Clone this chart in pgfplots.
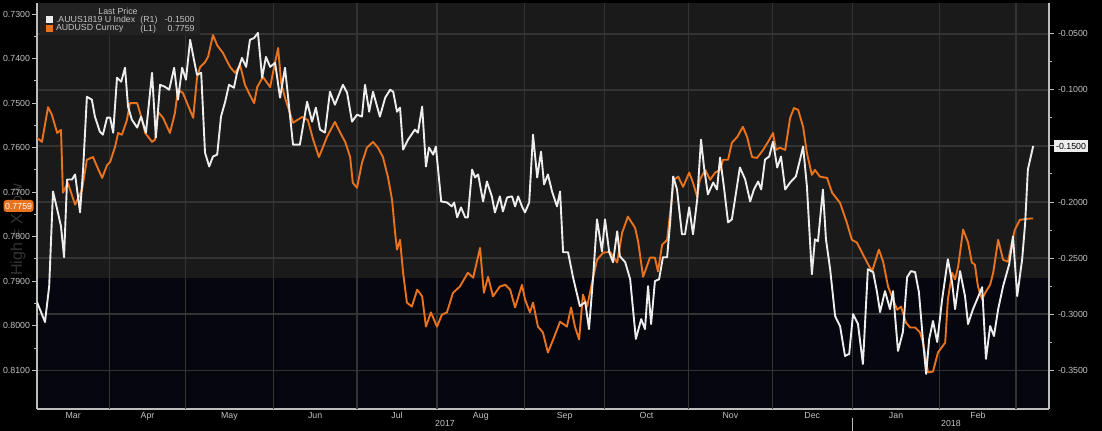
\documentclass[border=0pt]{standalone}
\usepackage{pgfplots}
\pgfplotsset{compat=1.18}
\usepackage{fontspec}
\setmainfont{Liberation Sans}
\definecolor{upperband}{HTML}{1A1A1A}
\definecolor{lowerband}{HTML}{05060E}
\definecolor{gridc}{HTML}{333333}
\definecolor{axc}{HTML}{BDBDBD}
\definecolor{txt}{HTML}{C4C4C4}
\definecolor{orng}{HTML}{E8721E}
\definecolor{wht}{HTML}{EDEDED}
\definecolor{legbg}{HTML}{222222}
\definecolor{wmark}{HTML}{343434}
\newcommand{\tf}{\fontsize{4.4}{5}\selectfont}
\pgfplotsset{
  base/.style={
    at={(18.5pt,11pt)}, anchor=south west,
    width=506pt, height=203pt, scale only axis,
    xmin=0, xmax=265.65,
    tick label style={txt, font=\tf},
    axis line style={axc, line width=0.6pt},
    tick style={axc, line width=0.5pt},
    tick align=outside,
    major tick length=2.5pt, minor tick length=1.5pt,
  }
}
\begin{document}
\begin{tikzpicture}
\fill[black] (0pt,0pt) rectangle (551pt,215.5pt);
\useasboundingbox (0pt,0pt) rectangle (551pt,215.5pt);
\node[rotate=90, text=wmark, font=\fontsize{8}{9}\selectfont] at (9pt,100.5pt) {High = XLow};
% background bands
\begin{axis}[base, hide axis, ymin=0, ymax=1]
 \fill[upperband] (rel axis cs:0,0.3227) rectangle (rel axis cs:1,1);
 \fill[lowerband] (rel axis cs:0,0) rectangle (rel axis cs:1,0.3227);
\end{axis}
% grid and x axis
\begin{axis}[base, ymin=-0.3847, ymax=-0.0224, clip=false,
  axis x line*=bottom, axis y line*=left,
  xtick={9.5,29,50.5,73,94.5,116.5,138.5,160,182,203.5,225.5,247},
  xticklabels={Mar,Apr,May,Jun,Jul,Aug,Sep,Oct,Nov,Dec,Jan,Feb},
  major x tick style={draw=none},
  xticklabel style={yshift=4.5pt},
  extra x ticks={19,39,62,84,105,128,149,171,193,214,237,257},
  extra x tick labels={},
  extra x tick style={grid=major, major grid style={gridc, line width=0.6pt}, major tick length=1.2pt},
  ytick={-0.35,-0.30,-0.25,-0.20,-0.15,-0.10,-0.05},
  yticklabels={},
  ymajorgrids, major grid style={gridc, line width=0.6pt},
  ytick style={draw=none}]
 \node[txt, font=\tf] at (axis cs:107.1,-0.3847) [yshift=-7.3pt] {2017};
 \node[txt, font=\tf] at (axis cs:239.9,-0.3847) [yshift=-7.3pt] {2018};
 \draw[axc, line width=0.5pt] (axis cs:214,-0.3847) ++(0pt,-4.5pt) -- ++(0pt,-6.5pt);
\end{axis}
% left axis, AUDUSD
\begin{axis}[base, y dir=reverse, ymin=0.7275, ymax=0.8187,
  axis x line=none, axis y line*=left,
  ytick={0.73,0.74,0.75,0.76,0.77,0.78,0.79,0.80,0.81},
  yticklabels={0.7300,0.7400,0.7500,0.7600,0.7700,0.7800,0.7900,0.8000,0.8100},
  minor y tick num=1,
  yticklabel style={inner sep=0.8pt}]
\addplot[orng, line width=0.95pt, line join=round] coordinates {
(0,0.7578)(1.3,0.7587)(2.9,0.7509)(3.9,0.7526)(5.3,0.7567)(6.3,0.7560)(6.8,0.7701)(8.1,0.7679)(10.0,0.7728)(11.8,0.7695)(13.1,0.7627)(14.7,0.7621)(15.8,0.7643)(17.1,0.7668)(18.4,0.7639)(19.2,0.7632)(20.5,0.7598)(21.3,0.7567)(22.3,0.7571)(23.6,0.7538)(24.4,0.7500)(26.3,0.7500)(27.6,0.7538)(28.4,0.7567)(30.2,0.7587)(31.0,0.7582)(31.8,0.7520)(33.1,0.7533)(34.9,0.7567)(36.2,0.7522)(37.0,0.7470)(38.3,0.7477)(39.6,0.7504)(41.0,0.7533)(42.0,0.7443)(42.8,0.7419)(44.1,0.7408)(44.9,0.7396)(46.2,0.7347)(47.3,0.7370)(48.8,0.7387)(50.7,0.7419)(52.0,0.7432)(53.3,0.7414)(54.6,0.7459)(55.9,0.7482)(57.0,0.7500)(57.8,0.7464)(59.3,0.7441)(61.2,0.7464)(62.5,0.7408)(63.3,0.7376)(64.1,0.7455)(65.1,0.7488)(67.2,0.7544)(69.6,0.7531)(71.1,0.7538)(72.5,0.7582)(74.0,0.7621)(75.1,0.7598)(76.1,0.7576)(78.2,0.7542)(79.5,0.7565)(80.9,0.7587)(82.2,0.7621)(82.9,0.7679)(84.0,0.7690)(85.3,0.7634)(86.6,0.7600)(88.2,0.7587)(89.5,0.7600)(90.8,0.7621)(92.1,0.7665)(93.2,0.7717)(94.0,0.7791)(94.5,0.7829)(95.3,0.7807)(96.1,0.7881)(97.1,0.7948)(98.4,0.7957)(99.8,0.7919)(101.1,0.7934)(102.1,0.8002)(103.4,0.7970)(105.0,0.8002)(106.3,0.7975)(107.6,0.7970)(109.2,0.7926)(111.0,0.7912)(113.1,0.7881)(114.5,0.7892)(116.3,0.7825)(117.3,0.7926)(118.4,0.7890)(119.7,0.7934)(121.5,0.7912)(122.9,0.7908)(124.2,0.7919)(125.5,0.7959)(127.3,0.7908)(128.1,0.7941)(129.4,0.7970)(130.2,0.7948)(131.5,0.8002)(132.8,0.8015)(134.1,0.8060)(135.5,0.8031)(137.3,0.7991)(139.1,0.8002)(140.2,0.7959)(141.2,0.8002)(142.3,0.8031)(143.3,0.7930)(144.4,0.7957)(145.7,0.7903)(147.0,0.7852)(148.6,0.7836)(150.4,0.7834)(152.3,0.7858)(153.6,0.7791)(155.1,0.7755)(157.0,0.7780)(157.8,0.7811)(159.1,0.7890)(160.9,0.7847)(162.2,0.7847)(163.0,0.7878)(164.1,0.7818)(165.4,0.7807)(166.2,0.7746)(167.2,0.7672)(168.3,0.7665)(169.6,0.7688)(171.2,0.7656)(172.2,0.7679)(173.3,0.7710)(174.0,0.7672)(175.4,0.7650)(176.7,0.7672)(178.0,0.7656)(179.3,0.7650)(180.1,0.7627)(181.4,0.7627)(182.4,0.7589)(183.8,0.7576)(185.3,0.7553)(186.4,0.7576)(187.7,0.7621)(189.0,0.7623)(190.6,0.7605)(191.9,0.7587)(193.2,0.7567)(194.0,0.7605)(195.0,0.7600)(196.4,0.7605)(197.7,0.7533)(198.7,0.7511)(199.8,0.7515)(201.1,0.7553)(202.1,0.7612)(203.4,0.7661)(204.2,0.7650)(205.5,0.7665)(207.4,0.7668)(208.7,0.7701)(210.8,0.7724)(212.6,0.7769)(213.9,0.7807)(215.2,0.7813)(216.6,0.7836)(217.9,0.7858)(219.2,0.7878)(221.0,0.7829)(222.1,0.7856)(223.4,0.7912)(224.7,0.7941)(225.8,0.7964)(226.8,0.7957)(228.1,0.7993)(229.2,0.8004)(230.5,0.8004)(231.8,0.8015)(232.6,0.8038)(233.9,0.8105)(235.2,0.8103)(236.5,0.8060)(238.4,0.8038)(239.1,0.7941)(240.2,0.7881)(241.0,0.7896)(241.8,0.7867)(243.1,0.7784)(244.4,0.7813)(245.4,0.7858)(246.2,0.7863)(247.0,0.7912)(248.1,0.7941)(248.9,0.7926)(250.2,0.7908)(251.0,0.7881)(252.3,0.7807)(253.6,0.7852)(254.9,0.7856)(255.9,0.7813)(256.7,0.7784)(258.0,0.7762)(260.7,0.7759)(261.5,0.7759)
};
\end{axis}
% right axis, AUUS1819
\begin{axis}[base, ymin=-0.3847, ymax=-0.0224,
  axis x line=none, axis y line*=right,
  ytick={-0.35,-0.30,-0.25,-0.20,-0.15,-0.10,-0.05},
  yticklabels={-0.3500,-0.3000,-0.2500,-0.2000,-0.1500,-0.1000,-0.0500},
  minor y tick num=1,
  yticklabel style={inner sep=0.8pt, xshift=1pt}]
\addplot[wht, line width=0.95pt, line join=round] coordinates {
(0,-0.2893)(2.1,-0.3071)(3.2,-0.2751)(4.2,-0.1906)(5.3,-0.2066)(6.3,-0.2217)(7.1,-0.2493)(7.9,-0.1799)(9.2,-0.1799)(10.0,-0.1754)(11.3,-0.2093)(12.1,-0.1710)(13.1,-0.1061)(14.4,-0.1087)(15.2,-0.1238)(16.5,-0.1372)(17.3,-0.1399)(18.4,-0.1247)(19.2,-0.1247)(20.0,-0.1381)(21.0,-0.0891)(22.1,-0.0927)(23.1,-0.0802)(23.9,-0.1149)(24.9,-0.1265)(26.3,-0.1336)(27.3,-0.1238)(28.6,-0.1381)(30.2,-0.0847)(31.2,-0.1425)(32.3,-0.0954)(33.6,-0.0972)(34.7,-0.0998)(36.0,-0.0802)(37.0,-0.1087)(38.1,-0.0802)(39.1,-0.0909)(40.2,-0.0553)(41.2,-0.0731)(42.0,-0.0865)(43.1,-0.0847)(44.1,-0.1559)(45.2,-0.1683)(46.2,-0.1594)(47.3,-0.1577)(48.3,-0.1238)(49.4,-0.1105)(50.4,-0.0954)(51.7,-0.0980)(52.5,-0.0847)(53.8,-0.0714)(54.9,-0.0794)(55.9,-0.0553)(57.0,-0.0536)(58.0,-0.0491)(59.1,-0.0891)(60.1,-0.0705)(61.2,-0.0794)(62.5,-0.0758)(63.8,-0.1069)(65.1,-0.0802)(65.9,-0.1061)(67.2,-0.1488)(69.0,-0.1488)(69.8,-0.1327)(70.9,-0.1105)(72.2,-0.1283)(73.2,-0.1158)(74.3,-0.1354)(75.6,-0.1381)(76.9,-0.1016)(78.2,-0.1132)(80.3,-0.0954)(81.4,-0.1025)(82.7,-0.1283)(84.0,-0.1221)(85.3,-0.1238)(86.1,-0.0954)(87.2,-0.1194)(88.2,-0.1016)(90.0,-0.1238)(91.4,-0.1069)(92.7,-0.0998)(93.5,-0.1016)(94.5,-0.1194)(95.3,-0.1158)(96.1,-0.1532)(97.4,-0.1443)(99.2,-0.1354)(100.0,-0.1381)(101.1,-0.1149)(102.1,-0.1683)(102.9,-0.1514)(104.0,-0.1577)(104.7,-0.1505)(106.1,-0.1995)(107.6,-0.2004)(108.9,-0.2039)(109.5,-0.2004)(110.3,-0.2137)(111.3,-0.2048)(112.4,-0.2137)(113.1,-0.2137)(114.2,-0.1710)(115.0,-0.1781)(115.8,-0.1754)(117.1,-0.1995)(118.1,-0.1817)(119.4,-0.1950)(120.2,-0.2093)(121.5,-0.1950)(122.3,-0.2084)(123.4,-0.1959)(124.7,-0.1950)(125.5,-0.2039)(126.3,-0.1950)(127.3,-0.2039)(128.1,-0.2093)(129.2,-0.2004)(130.2,-0.1399)(131.3,-0.1781)(132.3,-0.1550)(133.1,-0.1843)(134.1,-0.1754)(135.2,-0.1906)(136.5,-0.2039)(137.3,-0.1906)(138.1,-0.2448)(139.4,-0.2448)(140.7,-0.2671)(142.5,-0.2929)(143.9,-0.2893)(144.9,-0.3134)(146.0,-0.2662)(147.0,-0.2155)(148.3,-0.2440)(149.1,-0.2155)(150.2,-0.2448)(151.2,-0.2537)(152.3,-0.2262)(153.0,-0.2484)(154.4,-0.2537)(155.7,-0.2689)(157.2,-0.3222)(158.6,-0.3045)(159.6,-0.3134)(160.4,-0.2751)(161.2,-0.3089)(162.2,-0.2706)(163.3,-0.2689)(164.3,-0.2493)(165.4,-0.2493)(166.2,-0.2182)(167.0,-0.1772)(168.0,-0.1888)(169.3,-0.2288)(170.1,-0.2288)(171.2,-0.2048)(172.2,-0.2288)(173.3,-0.1977)(174.3,-0.1443)(175.1,-0.1692)(176.1,-0.1932)(177.5,-0.1826)(178.5,-0.1888)(179.3,-0.1603)(180.3,-0.1861)(181.4,-0.2182)(182.4,-0.2155)(183.5,-0.1915)(184.5,-0.1692)(185.9,-0.1799)(187.2,-0.1995)(188.2,-0.1888)(189.3,-0.1817)(190.1,-0.1888)(191.1,-0.1621)(192.2,-0.1594)(193.2,-0.1461)(194.3,-0.1692)(195.3,-0.1594)(196.4,-0.1888)(197.7,-0.1826)(199.2,-0.1772)(200.3,-0.1621)(201.1,-0.1505)(202.1,-0.1861)(203.4,-0.2644)(204.2,-0.2333)(205.0,-0.2351)(206.3,-0.1888)(207.1,-0.2333)(208.2,-0.2600)(209.5,-0.3018)(210.8,-0.3107)(212.1,-0.3374)(213.2,-0.3356)(214.2,-0.3000)(215.5,-0.3089)(216.8,-0.3445)(218.1,-0.2600)(219.5,-0.2626)(220.5,-0.2804)(221.3,-0.2982)(222.6,-0.2795)(223.9,-0.2956)(224.7,-0.2795)(226.0,-0.3329)(227.3,-0.3160)(228.4,-0.2671)(229.4,-0.2617)(230.5,-0.2626)(231.5,-0.2804)(232.6,-0.3249)(233.4,-0.3534)(234.2,-0.3222)(235.2,-0.3062)(236.3,-0.3249)(237.6,-0.2867)(239.1,-0.2511)(240.2,-0.2715)(241.0,-0.2956)(242.3,-0.2617)(243.6,-0.2840)(244.4,-0.3089)(245.7,-0.2956)(246.8,-0.2867)(248.1,-0.2760)(249.1,-0.3400)(250.2,-0.3107)(251.2,-0.3196)(252.3,-0.2956)(253.6,-0.2751)(255.2,-0.2555)(256.2,-0.2306)(257.3,-0.2840)(258.6,-0.2511)(259.4,-0.2182)(260.1,-0.1710)(261.5,-0.1500)
};
\end{axis}
% legend box
\fill[legbg] (20pt,198pt) rectangle (100pt,214pt);
\node[txt, font=\tf] at (59pt,210pt) {Last Price};
\fill[wht] (23pt,204pt) rectangle (26.4pt,207.4pt);
\node[txt, font=\tf, anchor=west, inner sep=0pt] at (27.8pt,205.6pt) {.AUUS1819 U Index};
\node[txt, font=\tf, anchor=west, inner sep=0pt] at (70pt,205.6pt) {(R1)};
\node[txt, font=\tf, anchor=east, inner sep=0pt] at (97.5pt,205.6pt) {-0.1500};
\fill[orng] (23pt,199.5pt) rectangle (26.4pt,202.9pt);
\node[txt, font=\tf, anchor=west, inner sep=0pt] at (27.8pt,201.1pt) {AUDUSD Curncy};
\node[txt, font=\tf, anchor=west, inner sep=0pt] at (70pt,201.1pt) {(L1)};
\node[txt, font=\tf, anchor=east, inner sep=0pt] at (97.5pt,201.1pt) {0.7759};
% last value markers
\node[fill=wht, text=black, font=\tf, inner sep=0.8pt, minimum height=6pt] at (535.5pt,142.3pt) {-0.1500};
\node[fill=orng, text=white, font=\tf, inner sep=0.8pt, minimum height=6pt, rounded corners=1.5pt] at (9.3pt,112.5pt) {0.7759};
\end{tikzpicture}
\end{document}
